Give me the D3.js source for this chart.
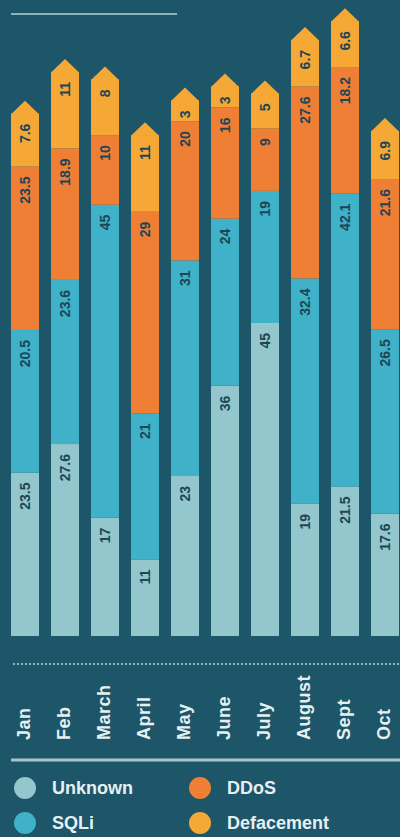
<!DOCTYPE html>
<html>
<head>
<meta charset="utf-8">
<script src="https://cdn.jsdelivr.net/npm/d3@7"></script>
<style>
  html, body { margin: 0; padding: 0; background: #1c5668; }
  svg { display: block; }
</style>
</head>
<body>
<div id="chart"></div>
<script>
// Attack types per month
const months = ['Jan', 'Feb', 'March', 'April', 'May', 'June', 'July', 'August', 'Sept', 'Oct'];
const unknown = [23.5, 27.6, 17, 11, 23, 36, 45, 19, 21.5, 17.6];
const sqli = [20.5, 23.6, 45, 21, 31, 24, 19, 32.4, 42.1, 26.5];
const ddos = [23.5, 18.9, 10, 29, 20, 16, 9, 27.6, 18.2, 21.6];
const defacement = [7.6, 11, 8, 11, 3, 3, 5, 6.7, 6.6, 6.9];

const seriesNames = ['Unknown', 'SQLi', 'DDoS', 'Defacement'];
const colors = ['#93c6cd', '#3fb1c8', '#ef7f35', '#f5a836'];

const width = 400, height = 837;
const tip = 13;

const rows = months.map((m, i) => ({
    month: m,
    Unknown: unknown[i],
    SQLi: sqli[i],
    DDoS: ddos[i],
    Defacement: defacement[i]
}));

const stack = d3.stack().keys(seriesNames)(rows);

const x = d3.scaleBand()
    .domain(months)
    .range([5, 405])
    .paddingInner(0.3)
    .paddingOuter(0.15);

const y = d3.scaleLinear()
    .domain([0, 90])
    .range([636, 10]);

const color = d3.scaleOrdinal().domain(seriesNames).range(colors);

const svg = d3.select('#chart').append('svg')
    .attr('width', width)
    .attr('height', height);

svg.append('rect')
    .attr('width', width).attr('height', height)
    .attr('fill', '#1c5668');

// top rule
svg.append('line')
    .attr('x1', 11).attr('x2', 177)
    .attr('y1', 14).attr('y2', 14)
    .attr('stroke', '#8db2bc').attr('stroke-width', 2);

const layers = svg.append('g').selectAll('g')
    .data(stack)
    .join('g')
    .attr('fill', d => color(d.key));

layers.selectAll('rect')
    .data(d => d)
    .join('rect')
    .attr('x', d => x(d.data.month))
    .attr('y', d => y(d[1]))
    .attr('width', x.bandwidth())
    .attr('height', d => y(d[0]) - y(d[1]));

// arrow heads on top of the last layer
const topLayer = stack[stack.length - 1];
svg.append('g').selectAll('path')
    .data(topLayer)
    .join('path')
    .attr('fill', color('Defacement'))
    .attr('d', d => {
        const x0 = x(d.data.month), x1 = x0 + x.bandwidth();
        const yt = y(d[1]);
        return `M${x0},${yt + 0.5}L${(x0 + x1) / 2},${yt - tip}L${x1},${yt + 0.5}Z`;
    });

// value labels
stack.forEach(layer => {
    svg.append('g').selectAll('text')
        .data(layer)
        .join('text')
        .attr('transform', d => `translate(${x(d.data.month) + x.bandwidth() / 2},${y(d[1]) + 10}) rotate(-90)`)
        .attr('text-anchor', 'end')
        .attr('dominant-baseline', 'central')
        .attr('font-family', 'Liberation Sans, Arial, sans-serif')
        .attr('font-weight', 'bold')
        .attr('font-size', 14)
        .attr('fill', '#1d4656')
        .text(d => d.data[layer.key]);
});

// dotted rule
svg.append('line')
    .attr('x1', 13).attr('x2', 400)
    .attr('y1', 664).attr('y2', 664)
    .attr('stroke', '#8fb4bd').attr('stroke-width', 2)
    .attr('stroke-dasharray', '2,2');

// month labels
svg.append('g').selectAll('text')
    .data(months)
    .join('text')
    .attr('transform', d => `translate(${x(d) + x.bandwidth() / 2 + 5},740) rotate(-90)`)
    .attr('font-family', 'Liberation Sans, Arial, sans-serif')
    .attr('font-weight', 'bold')
    .attr('font-size', 18)
    .attr('letter-spacing', 0.5)
    .attr('fill', '#e6f0f2')
    .text(d => d);

// bottom rule
svg.append('line')
    .attr('x1', 11).attr('x2', 400)
    .attr('y1', 760).attr('y2', 760)
    .attr('stroke', '#a7c3ca').attr('stroke-width', 3);

// legend
const legendPos = [[25, 788], [25, 823], [200, 788], [200, 823]];
const legend = svg.append('g').selectAll('g')
    .data(seriesNames)
    .join('g')
    .attr('transform', (d, i) => `translate(${legendPos[i][0]},${legendPos[i][1]})`);

legend.append('circle')
    .attr('r', 11)
    .attr('fill', d => color(d));

legend.append('text')
    .attr('x', 27)
    .attr('dominant-baseline', 'central')
    .attr('font-family', 'Liberation Sans, Arial, sans-serif')
    .attr('font-weight', 'bold')
    .attr('font-size', 18)
    .attr('fill', '#e6f0f2')
    .text(d => d);
</script>
</body>
</html>
